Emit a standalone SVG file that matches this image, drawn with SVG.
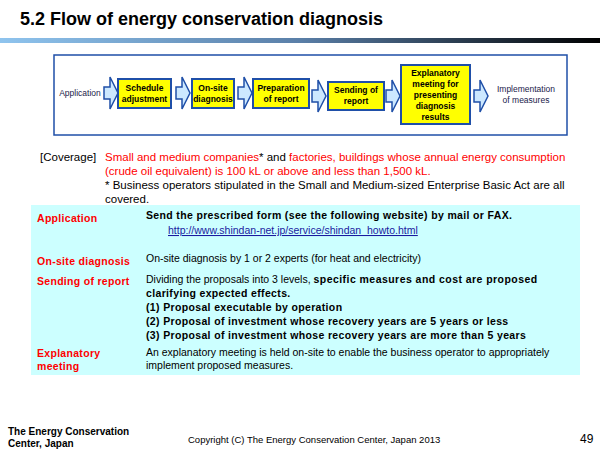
<svg xmlns="http://www.w3.org/2000/svg" width="600" height="450" viewBox="0 0 600 450">
<defs>
<style>
text{font-family:"Liberation Sans",Arial,sans-serif}
.box{fill:#ffff00;stroke:#1f4fa8;stroke-width:2}
.arr{fill:#cce8ff;stroke:#1f4fa8;stroke-width:1.5}
.bl{font-size:8.5px;font-weight:bold;text-anchor:middle;fill:#000}
.fl{font-size:8.5px;text-anchor:middle;fill:#1a1a4a}
.lab{font-size:10.5px;font-weight:bold;fill:#ff0000;letter-spacing:0.3px}
.d{font-size:10.5px;fill:#000}
.db{font-size:10.5px;fill:#000;font-weight:bold;letter-spacing:0.35px}
</style>
<linearGradient id="hl" x1="0" x2="1" y1="0" y2="0">
<stop offset="0" stop-color="#8fc4ee"/><stop offset="0.5" stop-color="#5a7fa8"/><stop offset="1" stop-color="#000"/>
</linearGradient>
<path id="ch" d="M0,-6 H6 V-16 L14,0 L6,16 V6 H0 Z"/>
</defs>
<rect width="600" height="450" fill="#fff"/>
<text x="20" y="25" font-size="18" font-weight="bold" fill="#000">5.2 Flow of energy conservation diagnosis</text>
<rect x="0" y="38" width="600" height="5" fill="url(#hl)"/>
<rect x="54" y="55" width="513" height="80" fill="#fff" stroke="#1f4fa8" stroke-width="1.5"/>
<g id="connectors">
<use href="#ch" x="104" y="93" class="arr"/>
<use href="#ch" x="176" y="93" class="arr"/>
<use href="#ch" x="238" y="93" class="arr"/>
<use href="#ch" x="312" y="96" class="arr"/>
<use href="#ch" x="386" y="96" class="arr"/>
<use href="#ch" x="474" y="96" class="arr"/>
</g>
<g id="n-app"><text x="80" y="96" class="fl">Application</text></g>
<g id="n-sched"><rect x="118" y="79" width="53" height="29" class="box"/><text x="144.5" y="91" class="bl">Schedule</text><text x="144.5" y="102" class="bl">adjustment</text></g>
<g id="n-onsite"><rect x="192" y="79" width="42" height="29" class="box"/><text x="213" y="91" class="bl">On-site</text><text x="213" y="102" class="bl">diagnosis</text></g>
<g id="n-prep"><rect x="253" y="79" width="56" height="29" class="box"/><text x="281" y="91" class="bl">Preparation</text><text x="281" y="102" class="bl">of report</text></g>
<g id="n-send"><rect x="328" y="82" width="56" height="28" class="box"/><text x="356" y="93" class="bl">Sending of</text><text x="356" y="104" class="bl">report</text></g>
<g id="n-expl"><rect x="401" y="65" width="69" height="59" class="box"/><text x="435.5" y="76" class="bl">Explanatory</text><text x="435.5" y="87" class="bl">meeting for</text><text x="435.5" y="98" class="bl">presenting</text><text x="435.5" y="109" class="bl">diagnosis</text><text x="435.5" y="120" class="bl">results</text></g>
<g id="n-impl"><text x="526" y="92" class="fl">Implementation</text><text x="526" y="103" class="fl">of measures</text></g>
<text x="40" y="161" font-size="11.5" fill="#000">[Coverage]</text>
<text x="105" y="161" font-size="11.5" fill="#ff0000">Small and medium companies<tspan fill="#000">* and </tspan>factories, buildings whose annual energy consumption</text>
<text x="105" y="175" font-size="11.5" fill="#ff0000">(crude oil equivalent) is 100 kL or above and less than 1,500 kL.</text>
<text x="105" y="189" font-size="11.5" fill="#000">* Business operators stipulated in the Small and Medium-sized Enterprise Basic Act are all</text>
<text x="105" y="203" font-size="11.5" fill="#000">covered.</text>
<rect x="31" y="205" width="549" height="170" fill="#ccffff"/>
<text x="37" y="222" class="lab">Application</text>
<text x="146" y="219" class="db">Send the prescribed form (see the following website) by mail or FAX.</text>
<text x="168" y="234" font-size="10.5" fill="#1a1aa0" text-decoration="underline">http://www.shindan-net.jp/service/shindan_howto.html</text>
<text x="37" y="265" class="lab">On-site diagnosis</text>
<text x="146" y="262" class="d">On-site diagnosis by 1 or 2 experts (for heat and electricity)</text>
<text x="37" y="285" class="lab">Sending of report</text>
<text x="146" y="283" class="d">Dividing the proposals into 3 levels, <tspan font-weight="bold" letter-spacing="0.45">specific measures and cost are proposed</tspan></text>
<text x="146" y="297" class="db">clarifying expected effects.</text>
<text x="146" y="311" class="db">(1) Proposal executable by operation</text>
<text x="146" y="325" class="db">(2) Proposal of investment whose recovery years are 5 years or less</text>
<text x="146" y="339" class="db">(3) Proposal of investment whose recovery years are more than 5 years</text>
<text x="37" y="357" class="lab">Explanatory</text>
<text x="37" y="370" class="lab">meeting</text>
<text x="146" y="356" class="d">An explanatory meeting is held on-site to enable the business operator to appropriately</text>
<text x="146" y="369" class="d">implement proposed measures.</text>
<text x="8" y="435" font-size="10" font-weight="bold" fill="#000">The Energy Conservation</text>
<text x="8" y="447" font-size="10" font-weight="bold" fill="#000">Center, Japan</text>
<text x="188" y="443" font-size="9.5" fill="#000">Copyright (C) The Energy Conservation Center, Japan 2013</text>
<text x="580" y="443" font-size="12" fill="#000">49</text>
</svg>
